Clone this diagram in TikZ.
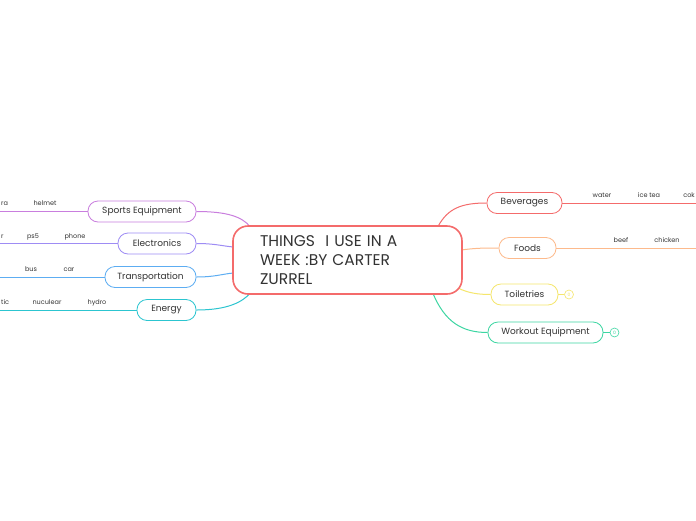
\documentclass[tikz,border=0pt]{standalone}
\usepackage{fontspec}
\setmainfont{Poppins}
\usepackage{tikz}

\definecolor{szoveg}{HTML}{333333}
\definecolor{piros}{HTML}{F46B6B}
\definecolor{narancs}{HTML}{FDBA8C}
\definecolor{sarga}{HTML}{F5E66C}
\definecolor{zold}{HTML}{3CD6A2}
\definecolor{lila}{HTML}{C97EDE}
\definecolor{ibolya}{HTML}{9E8CF4}
\definecolor{kek}{HTML}{5DADF2}
\definecolor{cian}{HTML}{2CC5D0}

\tikzset{
  kozep/.style={draw=piros, line width=1.6pt, rounded corners=15pt, fill=white,
    text=szoveg, font=\fontsize{15.5}{19}\selectfont, align=left,
    text width=175pt, inner xsep=27pt, minimum height=68pt},
  ag/.style={draw=#1, line width=0.8pt, rounded corners=10pt, fill=white,
    text=szoveg, font=\fontsize{9}{10}\selectfont, minimum height=21pt, inner xsep=4pt},
  level/.style={text=szoveg, font=\fontsize{6.5}{8}\selectfont, inner sep=1pt},
  kor/.style={draw=#1, line width=0.6pt, circle, minimum size=9pt, inner sep=0pt,
    text=#1, font=\fontsize{4.5}{5}\selectfont},
  vonal/.style={draw=#1, line width=1pt}
}

\begin{document}
\begin{tikzpicture}[x=1pt,y=-1pt]
  \useasboundingbox[fill=white] (0,0) rectangle (696,520);

  % csatlakozasi pontok a kozpontban
  \coordinate (k-sport) at (250,226.5);
  \coordinate (k-elektro) at (233.5,247);
  \coordinate (k-kozl) at (233.5,273);
  \coordinate (k-energia) at (250,293.5);
  \coordinate (k-italok) at (438,226.5);
  \coordinate (k-etelek) at (461.5,250);
  \coordinate (k-tiszt) at (458,288);
  \coordinate (k-edzes) at (433,293.5);

  % bal oldali agak
  \node[ag=lila, minimum width=108pt] (sport) at (142,211.5) {Sports Equipment};
  \node[ag=ibolya, minimum width=78pt] (elektro) at (157,243.5) {Electronics};
  \node[ag=kek, minimum width=91pt] (kozlekedes) at (150.5,277) {Transportation};
  \node[ag=cian, minimum width=59pt] (energia) at (166.5,310) {Energy};

  % jobb oldali agak
  \node[ag=piros, minimum width=75pt] (italok) at (524.5,203) {Beverages};
  \node[ag=narancs, minimum width=57pt] (etelek) at (527.5,248) {Foods};
  \node[ag=sarga, minimum width=67pt] (tisztalkodas) at (524.5,294.5) {Toiletries};
  \node[ag=zold, minimum width=115pt] (edzes) at (545.5,332.5) {Workout Equipment};

  % gorbek
  \draw[vonal=lila] (sport.east) .. controls (228,211.5) and (242,217) .. (k-sport);
  \draw[vonal=ibolya] (elektro.east) .. controls (215,243.5) and (222,246) .. (k-elektro);
  \draw[vonal=kek] (kozlekedes.east) .. controls (215,277) and (222,274) .. (k-kozl);
  \draw[vonal=cian] (energia.east) .. controls (228,310) and (242,302) .. (k-energia);
  \draw[vonal=piros] (k-italok) .. controls (448,208) and (462,203) .. (italok.west);
  \draw[vonal=narancs] (k-etelek) .. controls (475,248) and (485,248) .. (etelek.west);
  \draw[vonal=sarga] (k-tiszt) .. controls (468,293) and (478,294.5) .. (tisztalkodas.west);
  \draw[vonal=zold] (k-edzes) .. controls (445,322) and (462,332.5) .. (edzes.west);

  % kozponti csomopont
  \node[kozep] (kozpont) at (347.5,260) {THINGS\ \ I USE IN A\\WEEK :BY CARTER\\ZURREL};

  % levelek vonalai
  \coordinate (v-sport) at (0,211.5);
  \coordinate (v-elektro) at (0,243.5);
  \coordinate (v-kozl) at (0,277);
  \coordinate (v-energia) at (0,310);
  \coordinate (v-italok) at (696,203);
  \coordinate (v-etelek) at (696,248);
  \draw[vonal=lila] (sport.west) -- (v-sport);
  \draw[vonal=ibolya] (elektro.west) -- (v-elektro);
  \draw[vonal=kek] (kozlekedes.west) -- (v-kozl);
  \draw[vonal=cian] (energia.west) -- (v-energia);
  \draw[vonal=piros] (italok.east) -- (v-italok);
  \draw[vonal=narancs] (etelek.east) -- (v-etelek);

  % levelek
  \node[level, anchor=west] (camera) at (0,203.5) {ra};
  \node[level] (helmet) at (45,203.5) {helmet};
  \node[level, anchor=west] (computer) at (0,236.5) {r};
  \node[level] (ps5) at (33,236.5) {ps5};
  \node[level] (phone) at (75,236.5) {phone};
  \node[level] (bus) at (31,269.5) {bus};
  \node[level] (car) at (69,269.5) {car};
  \node[level, anchor=west] (electric) at (0,302.5) {tic};
  \node[level] (nuculear) at (47,302.5) {nuculear};
  \node[level] (hydro) at (97,302.5) {hydro};
  \node[level] (water) at (602,195.5) {water};
  \node[level] (icetea) at (649,195.5) {ice tea};
  \node[level, anchor=east] (coke) at (696,195.5) {cok};
  \node[level] (beef) at (621,240.5) {beef};
  \node[level] (chicken) at (667,240.5) {chicken};

  % kis korok
  \node[kor=sarga] (tiszt-kor) at (569,294.5) {0};
  \node[kor=zold] (edzes-kor) at (614.5,332.5) {0};
  \draw[vonal=sarga, line width=0.6pt] (tisztalkodas.east) -- (tiszt-kor);
  \draw[vonal=zold, line width=0.6pt] (edzes.east) -- (edzes-kor);
\end{tikzpicture}
\end{document}
